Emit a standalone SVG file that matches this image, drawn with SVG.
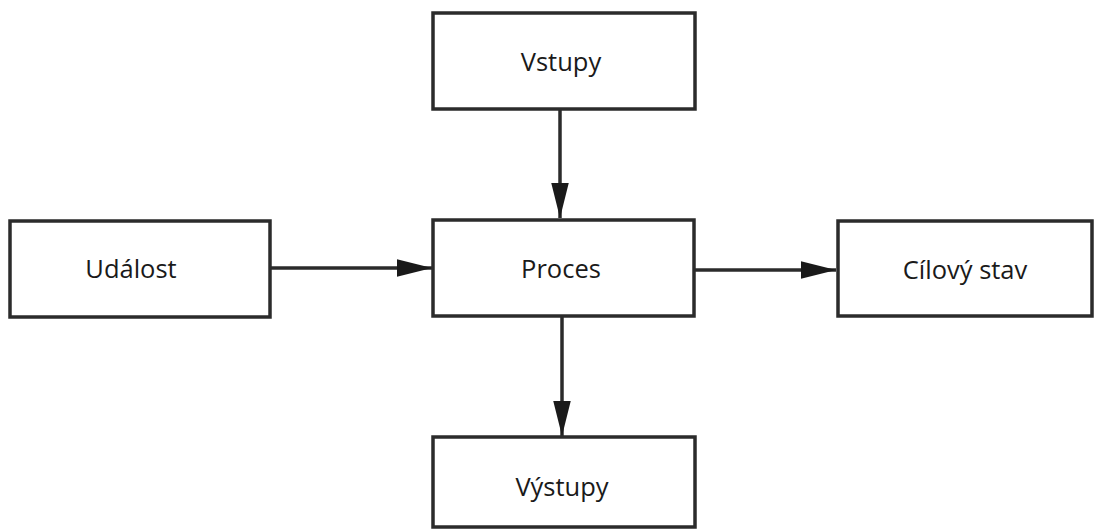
<svg xmlns="http://www.w3.org/2000/svg" width="1097" height="530" viewBox="0 0 1097 530">
<style>
.box{fill:#fff;stroke:#2b2b2b;stroke-width:3.5}
.lbl{font-family:"Open Sans","Liberation Sans",sans-serif;font-size:25.5px;fill:#1a1a1a;text-anchor:middle}
.con{stroke:#2b2b2b;stroke-width:3.5;fill:none}
</style>
<defs>
<marker id="ah" markerWidth="10" markerHeight="5" refX="10" refY="2.5" orient="auto" markerUnits="strokeWidth">
<path d="M0,0 L10,2.5 L0,5 Z" fill="#1a1a1a"/>
</marker>
</defs>
<rect width="1097" height="530" fill="#fff"/>
<g id="connectors">
<line class="con" x1="560" y1="110" x2="560" y2="218" marker-end="url(#ah)"/>
<line class="con" x1="271" y1="268" x2="432" y2="268" marker-end="url(#ah)"/>
<line class="con" x1="695" y1="270" x2="836" y2="270" marker-end="url(#ah)"/>
<line class="con" x1="562" y1="317" x2="562" y2="436" marker-end="url(#ah)"/>
</g>
<g id="vstupy"><rect class="box" x="433" y="13" width="262" height="96"/><text class="lbl" x="561" y="71">Vstupy</text></g>
<g id="udalost"><rect class="box" x="10" y="221" width="260" height="96"/><text class="lbl" x="131" y="278">Událost</text></g>
<g id="proces"><rect class="box" x="433" y="220" width="261" height="96"/><text class="lbl" x="561" y="278">Proces</text></g>
<g id="cilovy"><rect class="box" x="838" y="221" width="254" height="95"/><text class="lbl" x="965" y="279">Cílový stav</text></g>
<g id="vystupy"><rect class="box" x="433" y="437" width="262" height="90"/><text class="lbl" x="562" y="496">Výstupy</text></g>
</svg>
